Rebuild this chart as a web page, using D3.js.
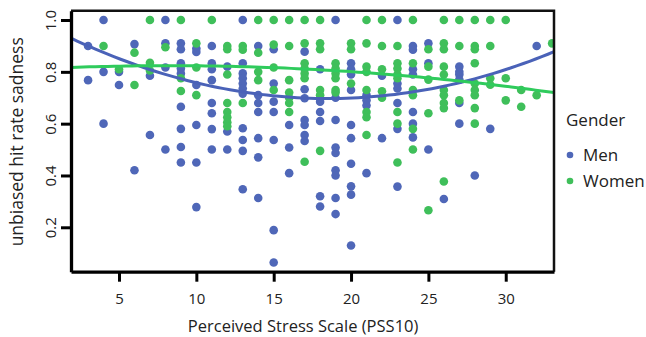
<!DOCTYPE html>
<html>
<head>
<meta charset="utf-8">
<script src="https://cdn.jsdelivr.net/npm/d3@7"></script>
<style>
  body { margin: 0; background: #fff; }
  text { font-family: "Open Sans", "Noto Sans", sans-serif; fill: #222; }
</style>
</head>
<body>
<div id="chart"></div>
<script>
// [PSS10 score, unbiased hit rate sadness]
const menPoints = [
  [3, 0.90], [3, 0.768],
  [4, 1.0], [4, 0.80], [4, 0.60],
  [5, 0.80], [5, 0.749],
  [6, 0.907], [6, 0.42],
  [7, 0.785], [7, 0.556],
  [8, 1.0], [8, 0.91], [8, 0.817], [8, 0.50],
  [9, 0.91], [9, 0.887], [9, 0.833], [9, 0.813], [9, 0.794], [9, 0.665], [9, 0.58], [9, 0.51], [9, 0.45],
  [10, 0.89], [10, 0.877], [10, 0.749], [10, 0.595], [10, 0.45], [10, 0.278],
  [11, 0.90], [11, 0.833], [11, 0.81], [11, 0.768], [11, 0.68], [11, 0.64], [11, 0.579], [11, 0.50],
  [12, 0.82], [12, 0.57], [12, 0.50],
  [13, 1.0], [13, 0.833], [13, 0.794], [13, 0.775], [13, 0.755], [13, 0.736], [13, 0.716], [13, 0.582], [13, 0.537], [13, 0.495], [13, 0.347],
  [14, 0.90], [14, 0.71], [14, 0.68], [14, 0.645], [14, 0.544], [14, 0.47], [14, 0.313],
  [15, 0.887], [15, 0.755], [15, 0.685], [15, 0.645], [15, 0.537], [15, 0.189], [15, 0.064],
  [16, 0.595], [16, 0.508], [16, 0.409],
  [17, 0.878], [17, 0.733], [17, 0.698], [17, 0.614], [17, 0.595], [17, 0.556], [17, 0.533],
  [18, 0.81], [18, 0.685], [18, 0.645], [18, 0.61], [18, 0.32], [18, 0.28],
  [19, 1.0], [19, 0.70], [19, 0.614], [19, 0.508], [19, 0.487], [19, 0.42], [19, 0.40], [19, 0.313], [19, 0.251],
  [20, 0.833], [20, 0.81], [20, 0.79], [20, 0.73], [20, 0.595], [20, 0.544], [20, 0.445], [20, 0.358], [20, 0.326], [20, 0.13],
  [21, 0.71], [21, 0.69], [21, 0.67], [21, 0.409],
  [22, 0.785], [22, 0.544],
  [23, 1.0], [23, 0.755], [23, 0.736], [23, 0.68], [23, 0.58], [23, 0.357],
  [24, 0.90], [24, 0.885], [24, 0.81], [24, 0.79], [24, 0.645], [24, 0.60], [24, 0.547],
  [25, 0.91], [25, 0.833], [25, 0.50],
  [26, 0.309],
  [27, 0.82], [27, 0.80], [27, 0.79], [27, 0.77], [27, 0.68], [27, 0.60],
  [28, 0.40],
  [29, 0.58],
  [32, 0.90]
];

const womenPoints = [
  [4, 0.90],
  [5, 0.81],
  [6, 0.874], [6, 0.749],
  [7, 1.0], [7, 0.835], [7, 0.805],
  [8, 0.895],
  [9, 1.0], [9, 0.775], [9, 0.726],
  [10, 0.91], [10, 0.817], [10, 0.71],
  [11, 1.0],
  [12, 0.90], [12, 0.887], [12, 0.79], [12, 0.68], [12, 0.645], [12, 0.625], [12, 0.605], [12, 0.59],
  [13, 0.90], [13, 0.885], [13, 0.68],
  [14, 1.0], [14, 0.874], [14, 0.80], [14, 0.768],
  [15, 1.0], [15, 0.905], [15, 0.817], [15, 0.73],
  [16, 1.0], [16, 0.90], [16, 0.768], [16, 0.72], [16, 0.70], [16, 0.68], [16, 0.645],
  [17, 1.0], [17, 0.91], [17, 0.833], [17, 0.813], [17, 0.794], [17, 0.775], [17, 0.453],
  [18, 1.0], [18, 0.91], [18, 0.887], [18, 0.73], [18, 0.71], [18, 0.495],
  [19, 0.833], [19, 0.813], [19, 0.794], [19, 0.775], [19, 0.73], [19, 0.72],
  [20, 0.91], [20, 0.887], [20, 0.755],
  [21, 1.0], [21, 0.91], [21, 0.82], [21, 0.80], [21, 0.73], [21, 0.645], [21, 0.625], [21, 0.556],
  [22, 1.0], [22, 0.90], [22, 0.81], [22, 0.725], [22, 0.70],
  [23, 0.90], [23, 0.833], [23, 0.813], [23, 0.79], [23, 0.775], [23, 0.645], [23, 0.60], [23, 0.45],
  [24, 1.0], [24, 0.833], [24, 0.73], [24, 0.71], [24, 0.58], [24, 0.50],
  [25, 0.887], [25, 0.82], [25, 0.77], [25, 0.64], [25, 0.266],
  [26, 1.0], [26, 0.91], [26, 0.887], [26, 0.82], [26, 0.79], [26, 0.73], [26, 0.71], [26, 0.68], [26, 0.66], [26, 0.377],
  [27, 1.0], [27, 0.90], [27, 0.69],
  [28, 1.0], [28, 0.90], [28, 0.887], [28, 0.833], [28, 0.755], [28, 0.73], [28, 0.71], [28, 0.66], [28, 0.60],
  [29, 1.0], [29, 0.90], [29, 0.775], [29, 0.75],
  [30, 1.0], [30, 0.775], [30, 0.69],
  [31, 0.73], [31, 0.665],
  [32, 0.71],
  [33, 0.91]
];

// quadratic smoother coefficients [a, b, c] for a + b*x + c*x^2
const menFit = [0.9862, -0.031265, 0.000845];
const womenFit = [0.8123, 0.002781, -0.0001683];

const xTicks = [5, 10, 15, 20, 25, 30];
const yTicks = [0.2, 0.4, 0.6, 0.8, 1.0];
const groups = ['Men', 'Women'];
const colors = { Men: '#4f67b8', Women: '#3fbf5a' };
const lineColors = { Men: '#4a62b8', Women: '#2fcb5c' };

const width = 646, height = 337;
const margin = { top: 10.7, right: 92, bottom: 65.3, left: 71 };
const innerW = width - margin.left - margin.right;
const innerH = height - margin.top - margin.bottom;
const xDomain = [1.897, 33.12];

const svg = d3.select('#chart').append('svg')
  .attr('width', width)
  .attr('height', height);

const xScale = d3.scaleLinear().domain(xDomain).range([0, innerW]);
const yScale = d3.scaleLinear().domain([0.0286, 1.036]).range([innerH, 0]);

const chart = svg.append('g')
  .attr('transform', `translate(${margin.left},${margin.top})`);

chart.append('defs').append('clipPath').attr('id', 'plotclip')
  .append('rect').attr('width', innerW).attr('height', innerH);

const plot = chart.append('g').attr('clip-path', 'url(#plotclip)');

const pointsBy = { Men: menPoints, Women: womenPoints };
const fitBy = { Men: menFit, Women: womenFit };

groups.forEach(g => {
  plot.selectAll('.pt-' + g)
    .data(pointsBy[g])
    .enter().append('circle')
    .attr('class', 'pt-' + g)
    .attr('cx', d => xScale(d[0]))
    .attr('cy', d => yScale(d[1]))
    .attr('r', 4.3)
    .attr('fill', colors[g]);
});

const line = d3.line().x(d => xScale(d[0])).y(d => yScale(d[1]));
groups.forEach(g => {
  const [a, b, c] = fitBy[g];
  const xs = d3.range(80).map(i => xDomain[0] + i * (xDomain[1] - xDomain[0]) / 79);
  plot.append('path')
    .datum(xs.map(x => [x, a + b * x + c * x * x]))
    .attr('d', line)
    .attr('fill', 'none')
    .attr('stroke', lineColors[g])
    .attr('stroke-width', 3);
});

// frame: thin top/right, heavy left/bottom axes
chart.append('path')
  .attr('d', `M0,0H${innerW}V${innerH}`)
  .attr('fill', 'none').attr('stroke', '#111').attr('stroke-width', 2.5);

const xAxis = chart.append('g')
  .attr('transform', `translate(0,${innerH})`)
  .call(d3.axisBottom(xScale).tickValues(xTicks).tickSize(10).tickPadding(12).tickSizeOuter(0));
xAxis.select('.domain').attr('stroke', '#000').attr('stroke-width', 3.3);
xAxis.selectAll('.tick line').attr('stroke', '#000').attr('stroke-width', 3);
xAxis.selectAll('.tick text').attr('font-size', 15).attr('fill', '#222')
  .attr('font-family', '"Open Sans", sans-serif');

const yAxis = chart.append('g')
  .call(d3.axisLeft(yScale).tickValues(yTicks).tickSize(10).tickFormat(d3.format('.1f')).tickSizeOuter(0));
yAxis.select('.domain').attr('stroke', '#000').attr('stroke-width', 3.3);
yAxis.selectAll('.tick line').attr('stroke', '#000').attr('stroke-width', 3);
yAxis.selectAll('.tick text')
  .attr('font-size', 15).attr('fill', '#222')
  .attr('font-family', '"Open Sans", sans-serif')
  .attr('x', null).attr('dy', null)
  .attr('text-anchor', 'middle')
  .attr('transform', 'translate(-15,0) rotate(-90)');

// axis titles
svg.append('text')
  .attr('x', margin.left + xScale(16.9))
  .attr('y', 332)
  .attr('text-anchor', 'middle')
  .attr('font-size', 16.5)
  .text('Perceived Stress Scale (PSS10)');

svg.append('text')
  .attr('transform', `translate(23,${margin.top + yScale(0.53)}) rotate(-90)`)
  .attr('text-anchor', 'middle')
  .attr('font-size', 17.5)
  .text('unbiased hit rate sadness');

// legend
const legend = svg.append('g').attr('transform', 'translate(566,0)');
legend.append('text').attr('x', 0).attr('y', 126).attr('font-size', 17).text('Gender');
groups.forEach((g, i) => {
  const cy = 155 + i * 26;
  legend.append('circle').attr('cx', 4).attr('cy', cy).attr('r', 3.3).attr('fill', colors[g]);
  legend.append('text').attr('x', 17).attr('y', cy + 6).attr('font-size', 17).text(g);
});
</script>
</body>
</html>
